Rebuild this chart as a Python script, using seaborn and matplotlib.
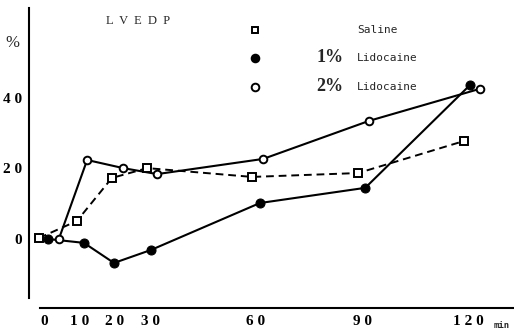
import matplotlib
matplotlib.use("Agg")
import matplotlib.pyplot as plt
from matplotlib.lines import Line2D
import seaborn as sns
import pandas as pd

# LVEDP change (%) over time (min) for three groups
saline_t = [-1.4, 9.3, 19.2, 29.2, 58.9, 88.9, 118.9]
saline_v = [0.3, 5.1, 17.3, 20.1, 17.6, 18.7, 27.8]

lido1_t = [1.1, 11.3, 19.8, 30.3, 61.1, 90.9, 120.6]
lido1_v = [0.0, -1.1, -6.8, -3.1, 10.2, 14.5, 43.7]

lido2_t = [4.2, 12.2, 22.4, 32.0, 62.0, 92.0, 123.4]
lido2_v = [0.0, 22.4, 20.1, 18.4, 22.7, 33.5, 42.6]

x_ticks = [0, 10, 20, 30, 60, 90, 120]
x_labels = ["0", "1 0", "2 0", "3 0", "6 0", "9 0", "1 2 0"]
y_ticks = [0, 20, 40]
y_labels = ["0", "2 0", "4 0"]

sns.set_style("white")
plt.rcParams["font.family"] = ["Liberation Serif", "DejaVu Serif"]

fig = plt.figure(figsize=(5.14, 3.29), dpi=100)
ax = fig.add_axes([29 / 514, 21 / 329, 485 / 514, 300 / 329])

saline = pd.DataFrame({"t": saline_t, "v": saline_v})
lido1 = pd.DataFrame({"t": lido1_t, "v": lido1_v})
lido2 = pd.DataFrame({"t": lido2_t, "v": lido2_v})

sns.lineplot(data=lido1, x="t", y="v", ax=ax, sort=False, color="black",
             linewidth=1.5, marker="o", markersize=6.5, markerfacecolor="black",
             markeredgecolor="black", zorder=3)
sns.lineplot(data=lido2, x="t", y="v", ax=ax, sort=False, color="black",
             linewidth=1.5, marker="o", markersize=5.5, markerfacecolor="white",
             markeredgecolor="black", markeredgewidth=1.4, zorder=4)
sns.lineplot(data=saline, x="t", y="v", ax=ax, sort=False, color="black",
             linewidth=1.4, linestyle=(0, (4, 2.5)), marker="s", markersize=5.5,
             markerfacecolor="white", markeredgecolor="black",
             markeredgewidth=1.4, zorder=5)

ax.set_xlim(-4.25, 133.0)
ax.set_ylim(-19.57, 65.5)

for side in ("top", "right"):
    ax.spines[side].set_visible(False)
ax.spines["left"].set_bounds(-16.7, 65.5)
ax.spines["bottom"].set_bounds(-1.1, 133.0)
for side in ("left", "bottom"):
    ax.spines[side].set_linewidth(1.5)
    ax.spines[side].set_color("black")

ax.set_xticks(x_ticks)
ax.set_xticklabels(x_labels, fontsize=11, fontweight="bold")
ax.set_yticks(y_ticks)
ax.set_yticklabels(y_labels, fontsize=11, fontweight="bold")
ax.tick_params(axis="x", length=3, width=1.2, direction="out", pad=2, colors="black")
ax.tick_params(axis="y", length=0, pad=5, colors="black")
ax.set_xlabel("")
ax.set_ylabel("")

fig.text(12 / 514, 1 - 43 / 329, "%", fontsize=12, ha="center", va="center")
fig.text(138 / 514, 1 - 21 / 329, "L  V  E  D  P", fontsize=9, ha="center", va="center")
fig.text(502 / 514, 1 - 325 / 329, "min", fontsize=6.5, ha="center", va="center",
         family="DejaVu Sans Mono", fontweight="bold")

# legend keys and labels
key_x = 255 / 514
rows = [
    (30, "s", "white", None, "Saline"),
    (58, "o", "black", "1%", "Lidocaine"),
    (87, "o", "white", "2%", "Lidocaine"),
]
for ypx, mk, fc, pct, name in rows:
    yf = 1 - ypx / 329
    fig.add_artist(Line2D([key_x], [yf], transform=fig.transFigure, marker=mk,
                          markersize=5 if mk == "s" else 5.5, markerfacecolor=fc,
                          markeredgecolor="black", markeredgewidth=1.4,
                          linestyle="none"))
    if pct:
        fig.text(330 / 514, yf, pct, fontsize=13, fontweight="bold",
                 ha="center", va="center")
    fig.text(357 / 514, yf, name, fontsize=8, family="DejaVu Sans Mono",
             ha="left", va="center")

fig.savefig("out.png", dpi=100)
